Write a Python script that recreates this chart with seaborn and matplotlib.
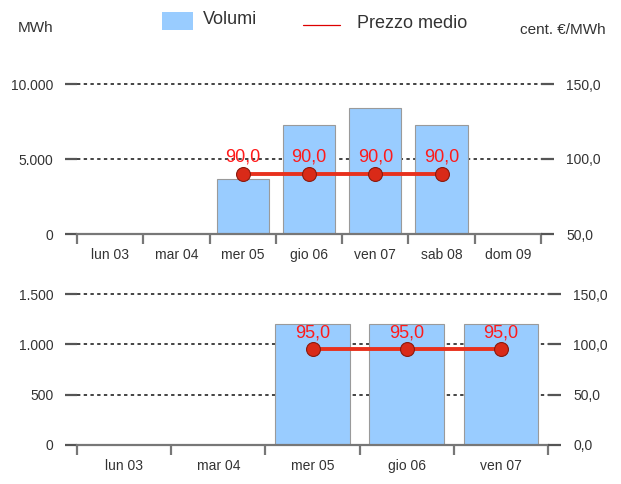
#! /usr/bin/env python3
import matplotlib
matplotlib.use('Agg')
from matplotlib.patches import Rectangle
from matplotlib.lines import Line2D
import matplotlib.pyplot as plt
import seaborn as sns

# data
days_top = ['lun 03', 'mar 04', 'mer 05', 'gio 06', 'ven 07', 'sab 08', 'dom 09']
vol_top = [0, 0, 3650, 7250, 8400, 7250, 0]
price_days_top = ['mer 05', 'gio 06', 'ven 07', 'sab 08']
price_top = [90.0, 90.0, 90.0, 90.0]
lticks_top = [0, 5000, 10000]
llabels_top = ['0', '5.000', '10.000']
rticks_top = [50, 100, 150]
rlabels_top = ['50,0', '100,0', '150,0']

days_bot = ['lun 03', 'mar 04', 'mer 05', 'gio 06', 'ven 07']
vol_bot = [0, 0, 1200, 1200, 1200]
price_days_bot = ['mer 05', 'gio 06', 'ven 07']
price_bot = [95.0, 95.0, 95.0]
lticks_bot = [0, 500, 1000, 1500]
llabels_bot = ['0', '500', '1.000', '1.500']
rticks_bot = [0, 50, 100, 150]
rlabels_bot = ['0,0', '50,0', '100,0', '150,0']

# settings
sns.set_style("white")
plt.rcParams['font.family'] = ['Liberation Sans', 'DejaVu Sans']
bar_col = '#99ccff'
line_col = '#e8311d'
txt_col = '#333333'

fig = plt.figure(figsize=(6.21, 4.84), dpi=100)


def panel(rect, days, vols, pdays, prices, lt, ll, rt, rl, rlim):
    ax = fig.add_axes(rect)
    sns.barplot(x=days, y=vols, order=days, color=bar_col, saturation=1,
                width=0.79, edgecolor='#9a9a9a', linewidth=0.8, ax=ax)
    n = len(days)
    ax.set_xlim(-0.5, n - 0.5)
    ax.set_ylim(lt[0], lt[-1])
    ax.set_yticks(lt)
    ax.set_yticklabels(ll)
    ax.set_axisbelow(True)
    ax.yaxis.grid(True, color='#111111', linestyle=(0, (2.2, 2.2)), linewidth=1.1)
    for g in ax.get_ygridlines():
        g.set_clip_on(False)
    for s in ['top', 'right', 'left']:
        ax.spines[s].set_visible(False)
    ax.spines['bottom'].set_color('#777777')
    ax.spines['bottom'].set_linewidth(1.6)
    ax.set_xticks(range(n))
    ax.set_xticklabels(days)
    ax.set_xticks([i - 0.5 for i in range(n + 1)], minor=True)
    ax.tick_params(axis='x', which='major', bottom=False, length=0, pad=10, labelsize=10, labelcolor=txt_col)
    ax.tick_params(axis='x', which='minor', bottom=True, length=7, width=1.6, color='#777777', direction='out')
    ax.tick_params(axis='y', left=True, length=9, width=1.6, color='#555555', pad=8, labelsize=10, labelcolor=txt_col)
    ax.set_xlabel('')
    ax.set_ylabel('')

    ax2 = ax.twinx()
    xs = [days.index(d) for d in pdays]
    sns.lineplot(x=xs, y=prices, ax=ax2, color=line_col, linewidth=2.8,
                 marker='o', markersize=10, markerfacecolor='#d92a18',
                 markeredgecolor='#8a1a0e', markeredgewidth=0.8)
    for x, p in zip(xs, prices):
        ax2.annotate(('%.1f' % p).replace('.', ','), (x, p), xytext=(0, 6),
                     textcoords='offset points', ha='center', va='bottom',
                     color='#ff1a1a', fontsize=13)
    ax2.set_ylim(rlim)
    ax2.set_yticks(rt)
    ax2.set_yticklabels(rl)
    ax2.set_xlim(-0.5, n - 0.5)
    for s in ax2.spines.values():
        s.set_visible(False)
    ax2.tick_params(axis='y', right=True, length=9, width=1.6, color='#555555', pad=9, labelsize=10, labelcolor=txt_col)
    ax2.set_ylabel('')
    return ax, ax2


panel([77 / 621, 1 - 234 / 484, 464 / 621, 150 / 484], days_top, vol_top,
      price_days_top, price_top, lticks_top, llabels_top, rticks_top, rlabels_top, (50, 150))
panel([77 / 621, 1 - 445 / 484, 471 / 621, 151 / 484], days_bot, vol_bot,
      price_days_bot, price_bot, lticks_bot, llabels_bot, rticks_bot, rlabels_bot, (0, 150))

# legend and unit labels
fig.patches.append(Rectangle((162 / 621, 1 - 30 / 484), 31 / 621, 18 / 484,
                             transform=fig.transFigure, facecolor=bar_col, edgecolor='none'))
fig.text(203 / 621, 1 - 20 / 484, 'Volumi', fontsize=13, color=txt_col, va='center')
fig.lines.append(Line2D([303 / 621, 340 / 621], [1 - 25 / 484, 1 - 25 / 484],
                        transform=fig.transFigure, color='#dd0000', linewidth=0.9))
fig.text(357 / 621, 1 - 24 / 484, 'Prezzo medio', fontsize=13, color=txt_col, va='center')
fig.text(18 / 621, 1 - 28 / 484, 'MWh', fontsize=11, color=txt_col, va='center')
fig.text(606 / 621, 1 - 30 / 484, 'cent. €/MWh', fontsize=11, color=txt_col, va='center', ha='right')

fig.savefig('out.png', dpi=100)
plt.close()
